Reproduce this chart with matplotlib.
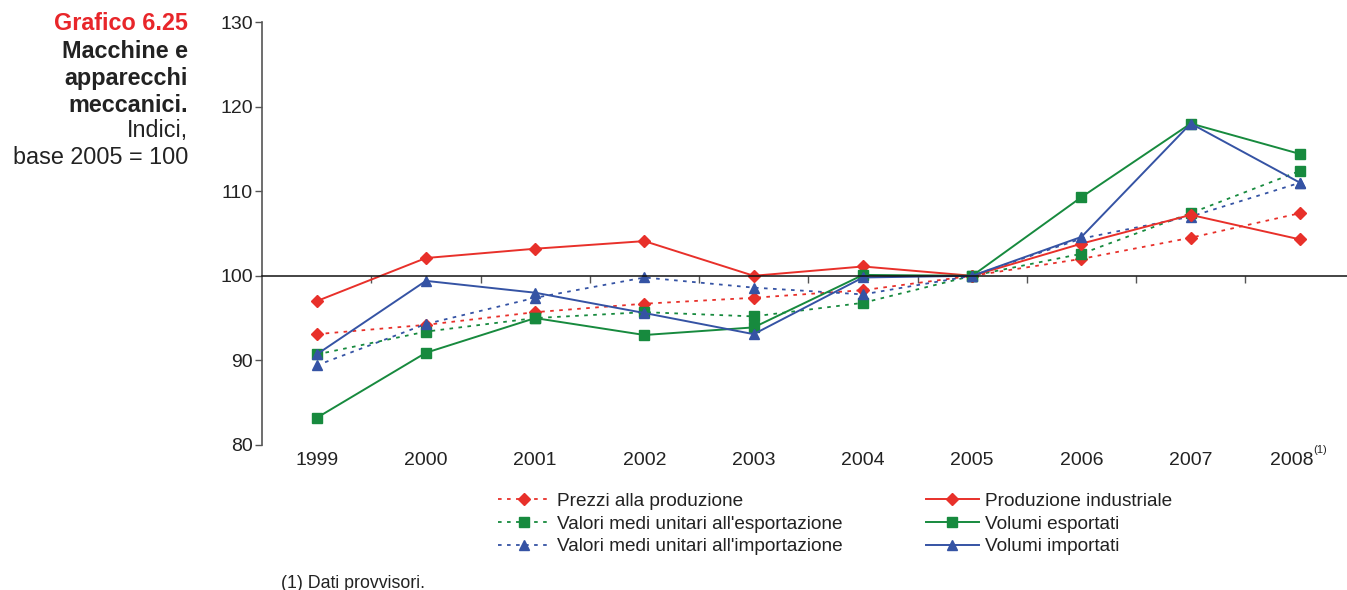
import matplotlib
matplotlib.use("Agg")
import matplotlib.pyplot as plt
from matplotlib.transforms import ScaledTranslation

plt.rcParams['font.family'] = ['Liberation Sans', 'DejaVu Sans']

years = ["1999", "2000", "2001", "2002", "2003", "2004", "2005", "2006", "2007", "2008"]

prezzi_produzione = [93.1, 94.2, 95.7, 96.7, 97.4, 98.3, 100.0, 102.0, 104.5, 107.4]
valori_esportazione = [90.7, 93.4, 95.0, 95.7, 95.2, 96.8, 100.0, 102.6, 107.4, 112.4]
valori_importazione = [89.4, 94.3, 97.4, 99.8, 98.6, 97.8, 100.0, 104.4, 107.0, 111.0]
produzione_industriale = [97.0, 102.1, 103.2, 104.1, 100.0, 101.1, 100.0, 103.8, 107.2, 104.3]
volumi_esportati = [83.2, 90.9, 95.0, 93.0, 93.9, 100.1, 100.0, 109.3, 118.0, 114.4]
volumi_importati = [90.7, 99.4, 98.0, 95.6, 93.1, 99.8, 100.0, 104.6, 118.0, 111.0]

red = "#e8302a"
green = "#178a3e"
blue = "#3553a4"
dots = (0, (2, 3))

fig = plt.figure(figsize=(13.47, 5.90), dpi=100)
ax = fig.add_axes([0.1945, 0.2458, 1 - 0.1945, 0.9627 - 0.2458])

x = list(range(len(years)))

# dotted series first, solid on top
ax.plot(x, prezzi_produzione, ls=dots, lw=1.3, color=red, marker="D", ms=6,
        label="Prezzi alla produzione")
ax.plot(x, valori_esportazione, ls=dots, lw=1.3, color=green, marker="s", ms=7,
        label="Valori medi unitari all'esportazione")
ax.plot(x, valori_importazione, ls=dots, lw=1.3, color=blue, marker="^", ms=7.5,
        label="Valori medi unitari all'importazione")
ax.plot(x, produzione_industriale, ls="-", lw=1.4, color=red, marker="D", ms=6,
        label="Produzione industriale")
ax.plot(x, volumi_esportati, ls="-", lw=1.4, color=green, marker="s", ms=7,
        label="Volumi esportati")
ax.plot(x, volumi_importati, ls="-", lw=1.4, color=blue, marker="^", ms=7.5,
        label="Volumi importati")

ax.set_ylim(80, 130)
ax.set_xlim(-0.5, 9.43)
ax.set_yticks([80, 90, 100, 110, 120, 130])
ax.tick_params(axis="y", direction="out", length=5, width=1, colors="#555555",
               labelcolor="#222222", labelsize=14, pad=1.5)

for s in ["top", "right"]:
    ax.spines[s].set_visible(False)
ax.spines["left"].set_color("#555555")
ax.spines["left"].set_linewidth(1.2)

# x axis crossing at 100 with ticks between categories
ax.spines["bottom"].set_position(("data", 100))
ax.spines["bottom"].set_color("#111111")
ax.spines["bottom"].set_linewidth(1.1)
ax.set_xticks([i + 0.5 for i in x[:-1]])
ax.set_xticklabels([])
ax.tick_params(axis="x", direction="out", length=5, width=1, colors="#555555")

sec = ax.secondary_xaxis(0)
sec.set_xticks(x)
sec.set_xticklabels(years)
sec.tick_params(length=0, labelsize=14, labelcolor="#222222", pad=5)
sec.spines["bottom"].set_visible(False)

# last label is shifted left to leave room for the note mark
last = sec.get_xticklabels()[-1]
last.set_transform(last.get_transform() + ScaledTranslation(-8 / 100, 0, fig.dpi_scale_trans))
ax.annotate("(1)", xy=(x[-1], 0), xycoords=ax.get_xaxis_transform(),
            xytext=(13, -5), textcoords="offset pixels", fontsize=8,
            color="#222222", ha="left", va="center")

# title block, one line at a time
title_lines = [("Grafico 6.25", "bold", "#e8262a", 24),
               ("Macchine e", "bold", "#222222", 51),
               ("apparecchi", "bold", "#222222", 78),
               ("meccanici.", "bold", "#222222", 105),
               ("Indici,", "normal", "#222222", 131),
               ("base 2005 = 100", "normal", "#222222", 157)]
for txt, wt, col, ypx in title_lines:
    fig.text(0.1395, 1 - ypx / 590, txt, color=col, fontsize=16.8, fontweight=wt,
             ha="right", va="center")

leg = fig.legend(loc="upper left", bbox_to_anchor=(0.364, 0.178), ncol=2,
                 frameon=False, fontsize=13.7, handlelength=2.75, handletextpad=0.35,
                 columnspacing=4.4, labelspacing=0.28, borderaxespad=0)
for t in leg.get_texts():
    t.set_color("#222222")

fig.text(281 / 1347, 1 - 583 / 590, "(1) Dati provvisori.", fontsize=12.8,
         color="#222222", ha="left", va="center")

fig.savefig("out.png", dpi=100)
